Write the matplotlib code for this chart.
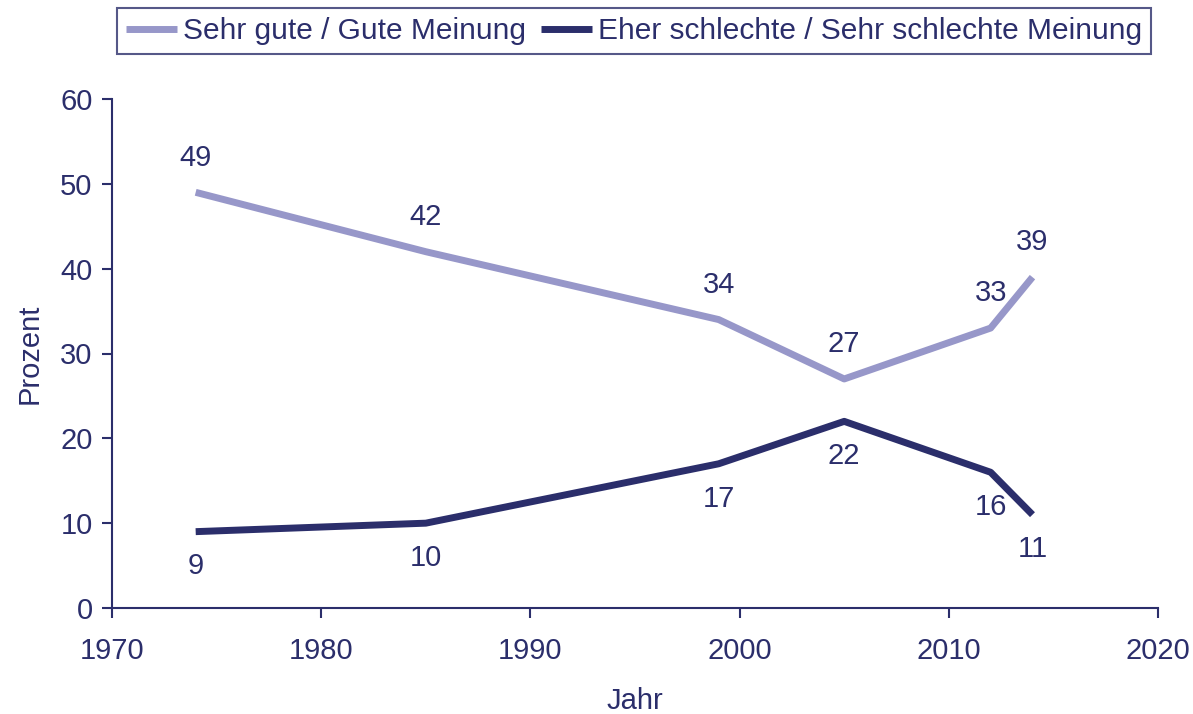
import matplotlib.pyplot as plt

# data
years = [1974, 1985, 1999, 2005, 2012, 2014]
good = [49, 42, 34, 27, 33, 39]
bad = [9, 10, 17, 22, 16, 11]
labels = ['Sehr gute / Gute Meinung', 'Eher schlechte / Sehr schlechte Meinung']

navy = '#2b2e6b'
light = '#9797c9'

plt.rcParams['font.family'] = ['Liberation Sans', 'DejaVu Sans']

fig = plt.figure(figsize=(11.93, 7.14), dpi=100)
ax = fig.add_axes([112 / 1193, 1 - 608 / 714, (1158 - 112) / 1193, (608 - 99) / 714])

ax.plot(years, good, color=light, lw=5, label=labels[0], solid_capstyle='butt')
ax.plot(years, bad, color=navy, lw=5, label=labels[1], solid_capstyle='butt')

# value labels
for x, y in zip(years, good):
    ax.annotate(str(y), (x, y), xytext=(0, 25), textcoords='offset points',
                ha='center', va='center', fontsize=21, color=navy)
for x, y in zip(years, bad):
    ax.annotate(str(y), (x, y), xytext=(0, -25), textcoords='offset points',
                ha='center', va='center', fontsize=21, color=navy)

ax.set_xlim(1970, 2020)
ax.set_ylim(0, 60)
ax.set_xticks(range(1970, 2021, 10))
ax.set_yticks(range(0, 61, 10))

for side in ['top', 'right']:
    ax.spines[side].set_visible(False)
for side in ['left', 'bottom']:
    ax.spines[side].set_color(navy)
    ax.spines[side].set_linewidth(1.5)
ax.tick_params(colors=navy, labelsize=21, direction='out', length=7, width=1.5, pad=7)
ax.tick_params(axis='x', pad=14)

ax.set_xlabel('Jahr', fontsize=21, color=navy, labelpad=16)
ax.set_ylabel('Prozent', fontsize=21, color=navy, labelpad=12)

leg = fig.legend(loc='upper center', bbox_to_anchor=(634 / 1193, 1 - 8 / 714), ncol=2,
                 frameon=True, fancybox=False, handlelength=1.7,
                 handletextpad=0.2, columnspacing=0.5, borderpad=0.3,
                 borderaxespad=0, prop={'size': 21.5})
leg.get_frame().set_edgecolor(navy)
leg.get_frame().set_linewidth(1.5)
for t in leg.get_texts():
    t.set_color(navy)

fig.savefig('out.png', dpi=100)
